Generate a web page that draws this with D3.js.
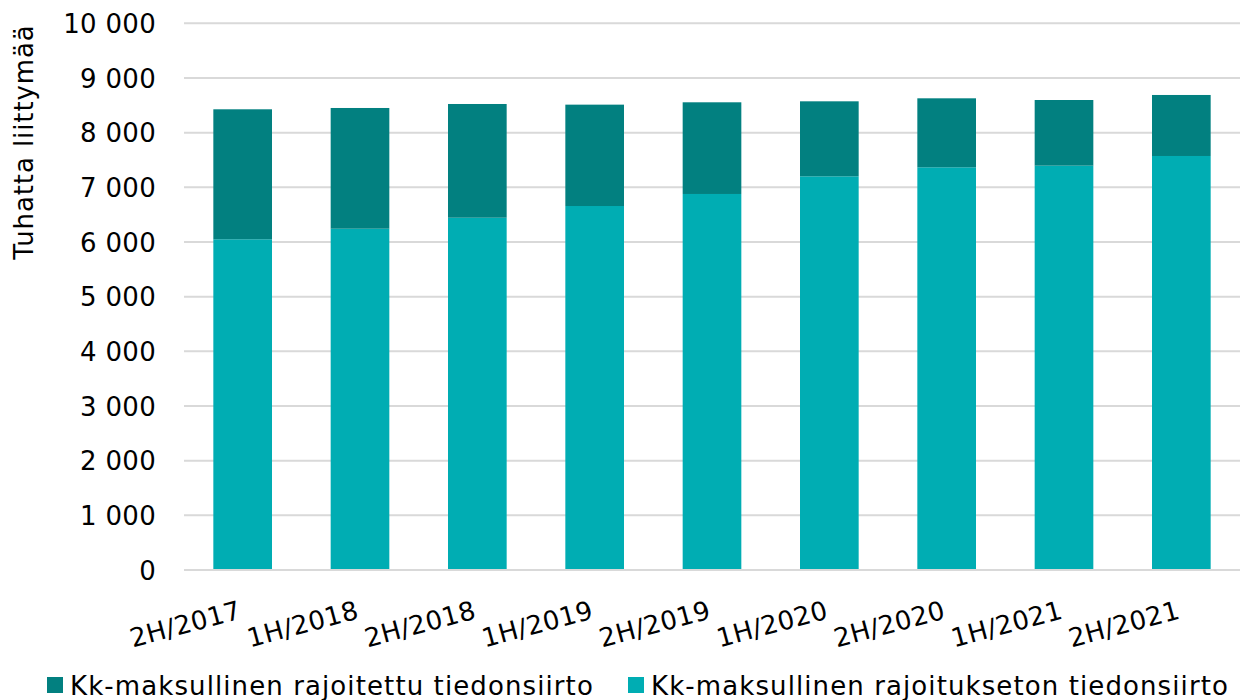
<!DOCTYPE html>
<html><head><meta charset="utf-8">
<script src="https://cdn.jsdelivr.net/npm/d3@7"></script>
<style>body{margin:0;background:#fff}svg{display:block}text{font-family:"DejaVu Sans",Verdana,sans-serif;fill:#000}</style>
</head><body><svg width="1248" height="700"></svg>
<script>
const categories = ["2H/2017","1H/2018","2H/2018","1H/2019","2H/2019","1H/2020","2H/2020","1H/2021","2H/2021"];
const unlimited = [6049,6243,6444,6658,6878,7201,7366,7396,7573];
const limitedTotal = [8427,8451,8524,8512,8555,8573,8628,8597,8689];
const limited = limitedTotal.map((t,i)=>t-unlimited[i]);
const seriesNames = ["Kk-maksullinen rajoitettu tiedonsiirto","Kk-maksullinen rajoitukseton tiedonsiirto"];
const colors = ["#028080","#00ADB3"];
const yTicks = [0,1000,2000,3000,4000,5000,6000,7000,8000,9000,10000];
const yTitle = "Tuhatta liittymää";

const svg = d3.select("svg");
const x = d3.scaleBand().domain(categories).range([184,1240]).paddingInner(0.5).paddingOuter(0.25);
const y = d3.scaleLinear().domain([0,10000]).range([570,23.3]);
const fmt = v => d3.format(",")(v).replace(/,/g," ");

// gridlines
svg.append("g").selectAll("line").data(yTicks).join("line")
  .attr("x1",184).attr("x2",1240).attr("y1",d=>y(d)).attr("y2",d=>y(d))
  .attr("stroke","#d9d9d9").attr("stroke-width",2);

// y axis labels
const yAxis = d3.axisLeft(y).tickValues(yTicks).tickFormat(fmt).tickSize(0).tickPadding(0);
const yg = svg.append("g").attr("transform","translate(156,0)").call(yAxis);
yg.select(".domain").remove();
yg.selectAll("text").style("font-size","26px").style("letter-spacing","0.3px").attr("font-family","DejaVu Sans").attr("fill","#000").attr("dy","0.35em");

// bars
const data = categories.map((c,i)=>({cat:c, unl:unlimited[i], lim:limited[i]}));
const stack = d3.stack().keys(["unl","lim"])(data);
const stackColors = {unl:colors[1], lim:colors[0]};
svg.append("g").selectAll("g").data(stack).join("g").attr("fill",d=>stackColors[d.key])
  .selectAll("rect").data(d=>d).join("rect")
  .attr("x",d=>x(d.data.cat)).attr("width",x.bandwidth())
  .attr("y",d=>y(d[1])).attr("height",d=>y(d[0])-y(d[1]));

// x axis line
svg.append("line").attr("x1",184).attr("x2",1240).attr("y1",y(0)).attr("y2",y(0)).attr("stroke","#d9d9d9").attr("stroke-width",2);

// x labels
const xAxis = d3.axisBottom(x).tickSize(0).tickPadding(0);
const xg = svg.append("g").attr("transform","translate(0,"+y(0)+")").call(xAxis);
xg.select(".domain").remove();
xg.selectAll("text").style("font-size","26px").style("letter-spacing","0.4px").attr("font-family","DejaVu Sans").attr("fill","#000")
  .attr("text-anchor","end").attr("dy",null).attr("y",null)
  .attr("transform","translate(0,48) rotate(-15)");

// y title
svg.append("text").attr("transform","translate(33,142) rotate(-90)").attr("text-anchor","middle")
  .style("font-size","26px").style("letter-spacing","0.9px").text(yTitle);

// legend
const legendX = [47,628];
const lg = svg.append("g").selectAll("g").data(seriesNames).join("g")
  .attr("transform",(d,i)=>"translate("+legendX[i]+",0)");
lg.append("rect").attr("x",0).attr("y",677).attr("width",16).attr("height",16).attr("fill",(d,i)=>colors[i]);
lg.append("text").attr("x",23).attr("y",695).style("font-size","26px").style("letter-spacing","1.1px").text(d=>d);
</script></body></html>
